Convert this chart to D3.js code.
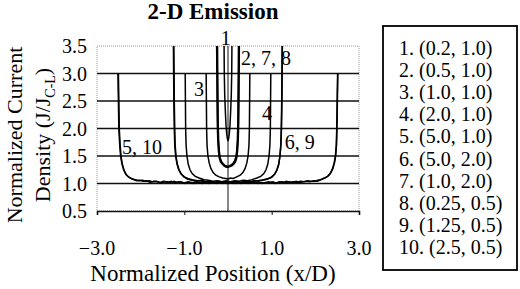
<!DOCTYPE html>
<html>
<head>
<meta charset="utf-8">
<script src="https://cdn.jsdelivr.net/npm/d3@7"></script>
<style>
  body { margin: 0; background: #fff; }
  text { font-family: "Liberation Serif", "Times New Roman", serif; fill: #000; }
</style>
</head>
<body>
<script>
// values: [x/D, J/Jc-l]
var curve1 = [[-0.09,3.5],[-0.085,3.0],[-0.075,2.6],[-0.06,2.3],[-0.045,2.05],[-0.03,1.9],[-0.015,1.82],[0,1.77],
  [0.015,1.82],[0.03,1.9],[0.045,2.05],[0.06,2.3],[0.075,2.6],[0.085,3.0],[0.09,3.5]];
var curve2 = [[-0.25,3.5],[-0.245,3.0],[-0.24,2.5],[-0.235,2.1],[-0.225,1.8],[-0.21,1.6],[-0.19,1.47],[-0.16,1.4],
  [-0.12,1.36],[-0.08,1.33],[-0.04,1.31],[0,1.3],[0.04,1.32],[0.08,1.33],[0.12,1.36],[0.16,1.4],[0.19,1.47],
  [0.21,1.6],[0.225,1.8],[0.235,2.1],[0.24,2.5],[0.245,3.0],[0.25,3.5]];
var curve3 = [[-0.5,3.0],[-0.495,2.5],[-0.49,2.0],[-0.48,1.7],[-0.46,1.5],[-0.43,1.37],[-0.39,1.27],[-0.34,1.2],
  [-0.28,1.15],[-0.2,1.12],[-0.12,1.1],[-0.05,1.09],[0,1.08],[0.05,1.1],[0.12,1.09],[0.2,1.12],[0.28,1.15],
  [0.34,1.2],[0.39,1.27],[0.43,1.37],[0.46,1.5],[0.48,1.7],[0.49,2.0],[0.495,2.5],[0.5,3.0]];
var curve4 = [[-0.98,3.0],[-0.975,2.5],[-0.97,2.0],[-0.96,1.7],[-0.94,1.5],[-0.91,1.35],[-0.87,1.25],[-0.82,1.18],
  [-0.75,1.13],[-0.66,1.1],[-0.55,1.07],[-0.45,1.06],[-0.35,1.04],[-0.25,1.05],[-0.15,1.03],[-0.05,1.05],
  [0.05,1.03],[0.15,1.05],[0.25,1.04],[0.35,1.06],[0.45,1.05],[0.55,1.07],[0.66,1.1],[0.75,1.13],[0.82,1.18],
  [0.87,1.25],[0.91,1.35],[0.94,1.5],[0.96,1.7],[0.97,2.0],[0.975,2.5],[0.98,3.0]];
var curve5 = [[-2.52,3.0],[-2.51,2.5],[-2.5,2.0],[-2.48,1.7],[-2.46,1.5],[-2.43,1.36],[-2.39,1.25],[-2.34,1.17],
  [-2.28,1.12],[-2.2,1.08],[-2.12,1.07],[-2.04,1.05],[-1.96,1.06],[-1.88,1.04],[-1.8,1.05],[-1.72,1.03],
  [-1.64,1.04],[-1.56,1.02],[-1.48,1.04],[-1.4,1.03],[-1.32,1.02],[-1.24,1.04],[-1.16,1.02],[-1.08,1.03],
  [-1.0,1.01],[-0.92,1.03],[-0.84,1.02],[-0.76,1.0],[-0.68,1.02],[-0.6,1.01],[-0.52,1.03],[-0.44,1.0],
  [-0.36,1.02],[-0.28,1.01],[-0.2,1.03],[-0.12,1.0],[-0.04,1.02],[0.04,1.01],[0.12,1.03],[0.2,1.0],
  [0.28,1.02],[0.36,1.01],[0.44,1.03],[0.52,1.01],[0.6,1.02],[0.68,1.0],[0.76,1.02],[0.84,1.01],[0.92,1.03],
  [1.0,1.02],[1.08,1.0],[1.16,1.02],[1.24,1.03],[1.32,1.01],[1.4,1.03],[1.48,1.02],[1.56,1.04],[1.64,1.02],
  [1.72,1.03],[1.8,1.04],[1.88,1.03],[1.96,1.05],[2.04,1.04],[2.1,1.06],[2.16,1.08],[2.22,1.1],[2.28,1.13],
  [2.34,1.18],[2.39,1.26],[2.43,1.37],[2.46,1.5],[2.48,1.7],[2.49,2.0],[2.5,2.5],[2.51,3.0]];
var curve6 = [[-1.24,3.5],[-1.235,3.0],[-1.23,2.5],[-1.22,2.0],[-1.21,1.7],[-1.19,1.5],[-1.16,1.35],[-1.12,1.25],
  [-1.07,1.17],[-1.0,1.12],[-0.92,1.09],[-0.82,1.07],[-0.7,1.05],[-0.6,1.06],[-0.5,1.03],[-0.4,1.04],
  [-0.3,1.02],[-0.2,1.04],[-0.1,1.02],[0,1.03],[0.1,1.01],[0.2,1.04],[0.3,1.02],[0.4,1.04],[0.5,1.03],
  [0.6,1.05],[0.7,1.05],[0.82,1.07],[0.92,1.09],[1.0,1.12],[1.07,1.17],[1.12,1.25],[1.16,1.35],[1.19,1.5],
  [1.21,1.7],[1.22,2.0],[1.23,2.5],[1.235,3.0],[1.24,3.5]];
var curve7 = [[-0.24,3.5],[-0.235,3.0],[-0.23,2.5],[-0.225,2.1],[-0.215,1.8],[-0.2,1.6],[-0.18,1.47],[-0.15,1.4],
  [-0.11,1.36],[-0.07,1.33],[-0.03,1.32],[0,1.31],[0.03,1.32],[0.07,1.34],[0.11,1.36],[0.15,1.41],[0.18,1.48],
  [0.2,1.6],[0.215,1.8],[0.225,2.1],[0.23,2.5],[0.235,3.0],[0.24,3.5]];
var curve8 = [[-0.26,3.5],[-0.255,3.0],[-0.25,2.5],[-0.245,2.1],[-0.235,1.8],[-0.22,1.6],[-0.2,1.46],[-0.17,1.39],
  [-0.13,1.35],[-0.09,1.32],[-0.05,1.3],[0,1.29],[0.05,1.31],[0.09,1.32],[0.13,1.35],[0.17,1.39],[0.2,1.46],
  [0.22,1.6],[0.235,1.8],[0.245,2.1],[0.25,2.5],[0.255,3.0],[0.26,3.5]];
var curve9 = [[-1.25,3.5],[-1.245,3.0],[-1.24,2.5],[-1.23,2.0],[-1.22,1.7],[-1.2,1.5],[-1.17,1.36],[-1.13,1.25],
  [-1.08,1.18],[-1.01,1.12],[-0.93,1.08],[-0.83,1.06],[-0.72,1.04],[-0.62,1.05],[-0.52,1.02],[-0.42,1.04],
  [-0.32,1.01],[-0.22,1.03],[-0.12,1.01],[-0.02,1.04],[0.08,1.02],[0.18,1.03],[0.28,1.01],[0.38,1.04],
  [0.48,1.02],[0.58,1.04],[0.68,1.05],[0.8,1.06],[0.91,1.08],[1.0,1.11],[1.07,1.17],[1.12,1.24],[1.16,1.34],
  [1.19,1.5],[1.21,1.7],[1.225,2.0],[1.235,2.5],[1.24,3.0],[1.245,3.5]];
var curve10 = [[-2.51,3.0],[-2.5,2.5],[-2.49,2.0],[-2.47,1.7],[-2.45,1.5],[-2.42,1.35],[-2.38,1.24],[-2.33,1.16],
  [-2.26,1.11],[-2.18,1.08],[-2.1,1.05],[-2.02,1.06],[-1.94,1.04],[-1.86,1.05],[-1.78,1.02],[-1.7,1.04],
  [-1.62,1.03],[-1.54,1.01],[-1.46,1.03],[-1.38,1.02],[-1.3,1.04],[-1.22,1.01],[-1.14,1.03],[-1.06,1.02],
  [-0.98,1.0],[-0.9,1.02],[-0.82,1.0],[-0.74,1.03],[-0.66,1.01],[-0.58,1.0],[-0.5,1.02],[-0.42,1.01],
  [-0.34,1.03],[-0.26,1.0],[-0.18,1.02],[-0.1,1.01],[-0.02,1.0],[0.06,1.02],[0.14,1.0],[0.22,1.02],
  [0.3,1.0],[0.38,1.02],[0.46,1.0],[0.54,1.02],[0.62,1.01],[0.7,1.03],[0.78,1.0],[0.86,1.02],[0.94,1.01],
  [1.02,1.03],[1.1,1.01],[1.18,1.03],[1.26,1.02],[1.34,1.04],[1.42,1.02],[1.5,1.03],[1.58,1.02],[1.66,1.04],
  [1.74,1.03],[1.82,1.05],[1.9,1.04],[1.98,1.04],[2.06,1.06],[2.12,1.07],[2.18,1.09],[2.24,1.11],[2.3,1.14],
  [2.35,1.19],[2.4,1.27],[2.44,1.38],[2.465,1.5],[2.485,1.7],[2.495,2.0],[2.505,2.5],[2.515,3.0]];
var curves = [curve1, curve2, curve3, curve4, curve5, curve6, curve7, curve8, curve9, curve10];

var legendLabels = ["1. (0.2, 1.0)", "2. (0.5, 1.0)", "3. (1.0, 1.0)", "4. (2.0, 1.0)", "5. (5.0, 1.0)",
  "6. (5.0, 2.0)", "7. (1.0, 2.0)", "8. (0.25, 0.5)", "9. (1.25, 0.5)", "10. (2.5, 0.5)"];
var xTicks = [-3, -1, 1, 3];
var yTicks = [0.5, 1.0, 1.5, 2.0, 2.5, 3.0, 3.5];
// curve tags inside the plot
var tagText = ["1", "2, 7, 8", "3", "4", "6, 9", "5, 10"];
var tagX = [-0.05, 0.3, -0.78, 0.78, 1.3, -2.43];
var tagY = [3.645, 3.28, 2.72, 2.28, 1.75, 1.66];

var W = 520, H = 289;
var svg = d3.select("body").append("svg").attr("width", W).attr("height", H);

var x = d3.scaleLinear().domain([-3, 3]).range([97, 359]);
var y = d3.scaleLinear().domain([0.5, 3.5]).range([211, 46]);

// title
svg.append("text").attr("x", 213).attr("y", 19).attr("text-anchor", "middle")
  .style("font-weight", "bold").style("font-size", "23px").text("2-D Emission");

// plot border (grey)
svg.append("rect").attr("x", x(-3)).attr("y", y(3.5)).attr("width", x(3) - x(-3)).attr("height", y(0.5) - y(3.5))
  .attr("fill", "none").attr("stroke", "#999").attr("stroke-width", 1).attr("stroke-dasharray", "1,1");

// gridlines
svg.selectAll(".grid").data(yTicks.filter(function (d) { return d > 0.5 && d < 3.5; }))
  .enter().append("line")
  .attr("x1", x(-3)).attr("x2", x(3))
  .attr("y1", function (d) { return y(d); }).attr("y2", function (d) { return y(d); })
  .attr("stroke", "#111").attr("stroke-width", 1.6);

// x axis at the bottom
var xAxis = d3.axisBottom(x).tickValues(xTicks).tickSize(4).tickFormat(function () { return ""; });
var gx = svg.append("g").attr("transform", "translate(0," + y(0.5) + ")").call(xAxis);
gx.select(".domain").attr("stroke", "#111").attr("stroke-width", 1.6);
gx.selectAll(".tick line").attr("stroke", "#111");
svg.selectAll(".xlab").data(xTicks).enter().append("text")
  .attr("x", function (d) { return x(d); }).attr("y", 255)
  .attr("text-anchor", "middle").style("font-size", "20px")
  .text(function (d) { return d3.format(".1f")(d); });

// value axis crosses at x = 0, labels sit at the left edge
svg.append("line").attr("x1", x(0)).attr("x2", x(0)).attr("y1", y(3.5)).attr("y2", y(0.5))
  .attr("stroke", "#111").attr("stroke-width", 1);
svg.selectAll(".ylab").data(yTicks).enter().append("text")
  .attr("x", 87).attr("y", function (d) { return y(d) + 7; })
  .attr("text-anchor", "end").style("font-size", "20px")
  .text(function (d) { return d3.format(".1f")(d); });

// curves
var line = d3.line().x(function (d) { return x(d[0]); }).y(function (d) { return y(d[1]); });
svg.selectAll(".curve").data(curves).enter().append("path")
  .attr("d", line).attr("fill", "none").attr("stroke", "#000").attr("stroke-width", 1.5);

// curve tags
svg.selectAll(".tag").data(tagText).enter().append("text")
  .attr("x", function (d, i) { return x(tagX[i]); })
  .attr("y", function (d, i) { return y(tagY[i]) + 7; })
  .attr("text-anchor", function (d, i) { return i == 0 ? "middle" : "start"; })
  .style("font-size", "20px")
  .text(function (d) { return d; });

// axis titles
svg.append("text").attr("x", 213).attr("y", 281).attr("text-anchor", "middle")
  .style("font-size", "23px").text("Normalized Position (x/D)");
var yt = svg.append("g").attr("transform", "translate(0,135) rotate(-90)");
yt.append("text").attr("x", 0).attr("y", 22).attr("text-anchor", "middle")
  .style("font-size", "22px").text("Normalized Current");
var t2 = yt.append("text").attr("x", 0).attr("y", 50).attr("text-anchor", "middle").style("font-size", "22px");
t2.append("tspan").text("Density (J/J");
t2.append("tspan").attr("dy", 5).style("font-size", "14px").text("C-L");
t2.append("tspan").attr("dy", -5).text(")");

// legend
svg.append("rect").attr("x", 383).attr("y", 26).attr("width", 134).attr("height", 244)
  .attr("fill", "none").attr("stroke", "#000").attr("stroke-width", 1.8);
svg.selectAll(".leg").data(legendLabels).enter().append("text")
  .attr("x", 399).attr("y", function (d, i) { return 55 + i * 22.1; })
  .style("font-size", "20px")
  .text(function (d) { return d; });
</script>
</body>
</html>
